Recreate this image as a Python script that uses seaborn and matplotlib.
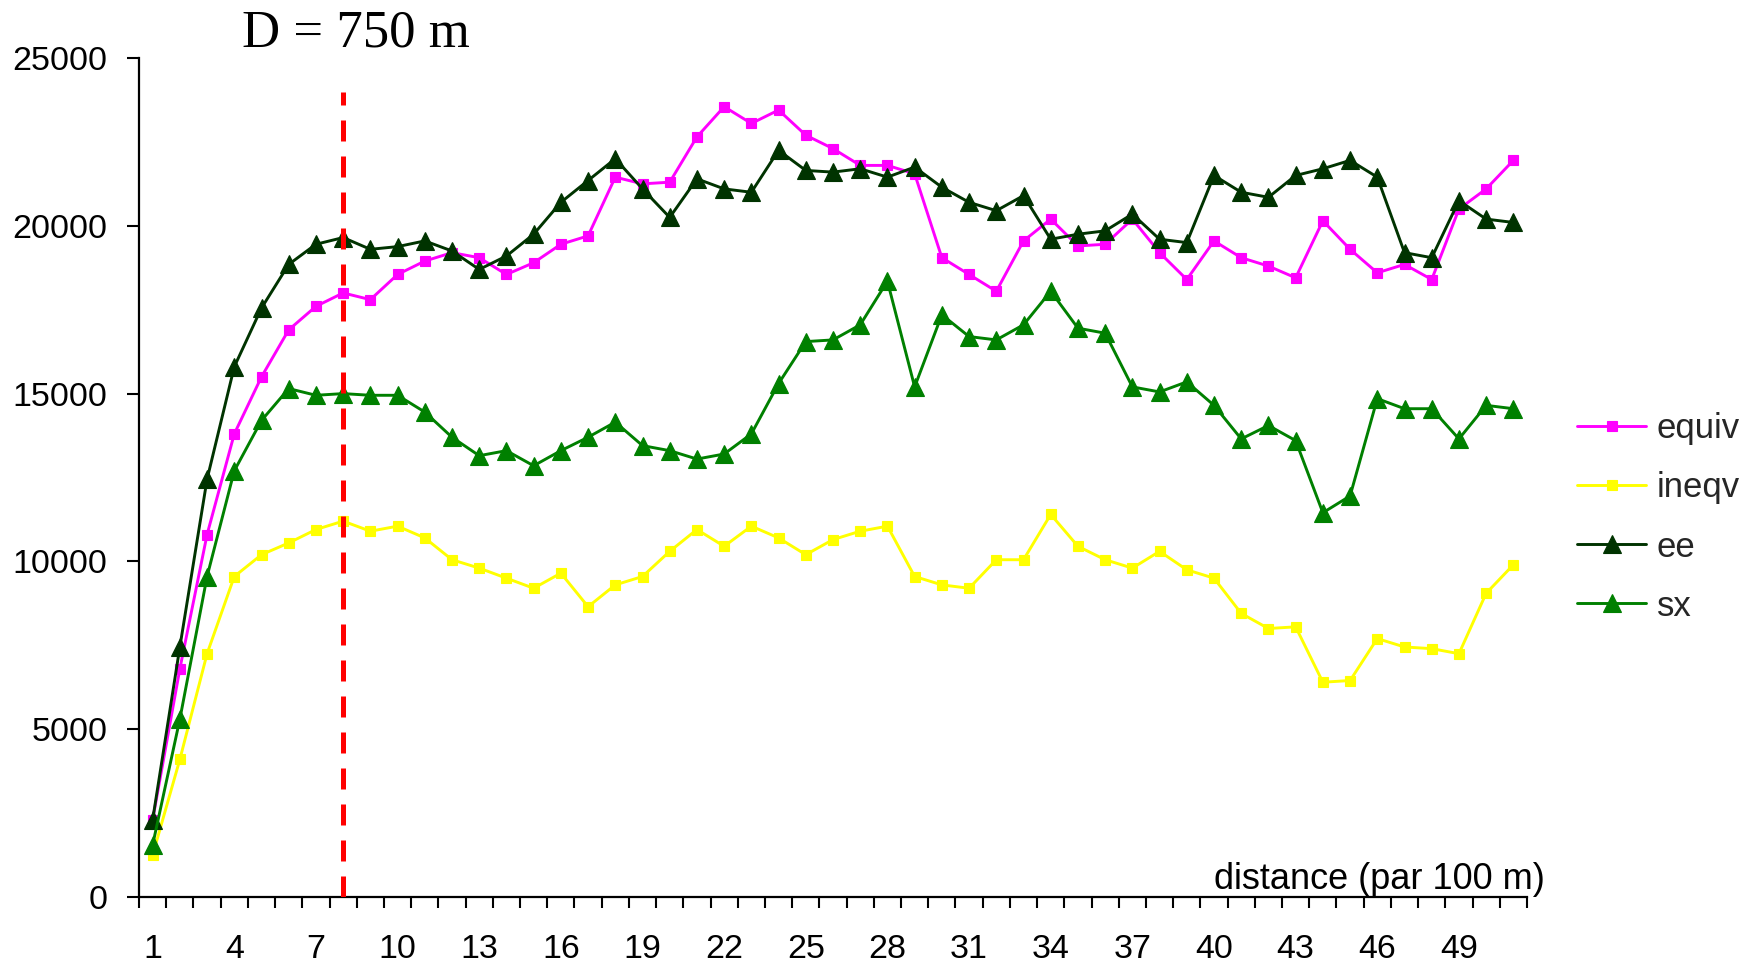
import matplotlib
matplotlib.use("Agg")
import matplotlib.pyplot as plt
from matplotlib.ticker import FixedLocator, NullFormatter
import seaborn as sns
import pandas as pd

# Semivariogram-style profiles versus distance class (par 100 m)
distance = list(range(1, 52))

equiv = [2300, 6800, 10800, 13800, 15500, 16900, 17600, 18000, 17800, 18550,
         18950, 19200, 19050, 18550, 18900, 19450, 19700, 21450, 21250, 21300,
         22650, 23550, 23050, 23450, 22700, 22300, 21800, 21800, 21550, 19050,
         18550, 18050, 19550, 20200, 19400, 19450, 20200, 19200, 18400, 19550,
         19050, 18800, 18450, 20150, 19300, 18600, 18850, 18400, 20500, 21100,
         21950]

ineqv = [1250, 4100, 7250, 9550, 10200, 10550, 10950, 11200, 10900, 11050,
         10700, 10050, 9800, 9500, 9200, 9650, 8650, 9300, 9550, 10300,
         10950, 10450, 11050, 10700, 10200, 10650, 10900, 11050, 9550, 9300,
         9200, 10050, 10050, 11400, 10450, 10050, 9800, 10300, 9750, 9500,
         8450, 8000, 8050, 6400, 6450, 7700, 7450, 7400, 7250, 9050,
         9900]

ee = [2300, 7450, 12450, 15800, 17550, 18850, 19450, 19650, 19300, 19380,
      19550, 19250, 18700, 19100, 19750, 20700, 21350, 22000, 21100, 20250,
      21400, 21100, 21000, 22250, 21650, 21600, 21700, 21450, 21750, 21150,
      20700, 20450, 20900, 19600, 19750, 19850, 20350, 19600, 19500, 21500,
      21000, 20850, 21500, 21700, 21950, 21450, 19200, 19050, 20750, 20200,
      20100]

sx = [1550, 5300, 9550, 12700, 14200, 15150, 14950, 15000, 14950, 14950,
      14450, 13700, 13150, 13300, 12850, 13300, 13700, 14150, 13450, 13300,
      13050, 13200, 13800, 15300, 16550, 16600, 17050, 18350, 15200, 17350,
      16700, 16600, 17050, 18050, 16950, 16800, 15200, 15050, 15350, 14650,
      13650, 14050, 13600, 11450, 11950, 14850, 14550, 14550, 13650, 14650,
      14550]

series_names = ["equiv", "ineqv", "ee", "sx"]
series_values = [equiv, ineqv, ee, sx]
series_colors = ["#FF00FF", "#FFFF00", "#003300", "#008000"]
series_markers = ["s", "s", "^", "^"]
series_msize = [7.5, 7.5, 12.5, 12.5]

y_ticks = [0, 5000, 10000, 15000, 20000, 25000]
x_label_ticks = list(range(1, 50, 3))

# range D = 750 m marked at class 8
cutoff_class = 8
cutoff_top = 24000

sns.set_style("ticks")
plt.rcParams["font.family"] = ["Liberation Sans", "DejaVu Sans"]

fig = plt.figure(figsize=(17.6, 9.67), dpi=100)
ax = fig.add_axes([0.079, 0.0724, 0.7886, 0.8676])

df = pd.DataFrame({"distance": distance})
for name, vals in zip(series_names, series_values):
    df[name] = vals

for name, col, mk, ms in zip(series_names, series_colors, series_markers, series_msize):
    sns.lineplot(data=df, x="distance", y=name, ax=ax, color=col, marker=mk,
                 markersize=ms, markeredgecolor=col, markerfacecolor=col,
                 markeredgewidth=0.8, linewidth=2.1, label=name, zorder=3)

ax.plot([cutoff_class, cutoff_class], [0, cutoff_top], color="#FF0000",
        linewidth=3.6, dashes=(4.2, 3.0), zorder=5)

ax.set_xlim(0.5, 51.5)
ax.set_ylim(0, 25000)
ax.set_xlabel("")
ax.set_ylabel("")

for side in ("top", "right"):
    ax.spines[side].set_visible(False)
for side in ("left", "bottom"):
    ax.spines[side].set_linewidth(1.6)
    ax.spines[side].set_color("black")

ax.set_yticks(y_ticks)
ax.set_yticklabels([str(v) for v in y_ticks])
ax.tick_params(axis="y", direction="out", length=8.6, width=1.5,
               labelsize=24.5, pad=14, colors="black")

ax.set_xticks(x_label_ticks)
ax.set_xticklabels([str(v) for v in x_label_ticks])
ax.xaxis.set_minor_locator(FixedLocator([c + 0.5 for c in range(0, 52)]))
ax.xaxis.set_minor_formatter(NullFormatter())
ax.tick_params(axis="x", which="major", length=0, labelsize=24.5, pad=27,
               colors="black")
ax.tick_params(axis="x", which="minor", direction="out", length=8, width=1.5,
               colors="black")

ax.text(1545 / 1760, (967 - 889) / 967, "distance (par 100 m)",
        transform=fig.transFigure, ha="right", va="baseline", fontsize=26,
        color="black")

fig.text(241.7 / 1760, (967 - 46.7) / 967, "D = 750 m",
         family=["Liberation Serif", "DejaVu Serif"], fontsize=38,
         ha="left", va="baseline", color="black")

leg = ax.legend(loc="center left", bbox_to_anchor=(1577 / 1760, (967 - 517.5) / 967),
                bbox_transform=fig.transFigure, frameon=False, fontsize=25,
                handlelength=2.0, handletextpad=0.3, labelspacing=0.75,
                borderpad=0, borderaxespad=0)

fig.savefig("out.png", dpi=100, facecolor="white")
